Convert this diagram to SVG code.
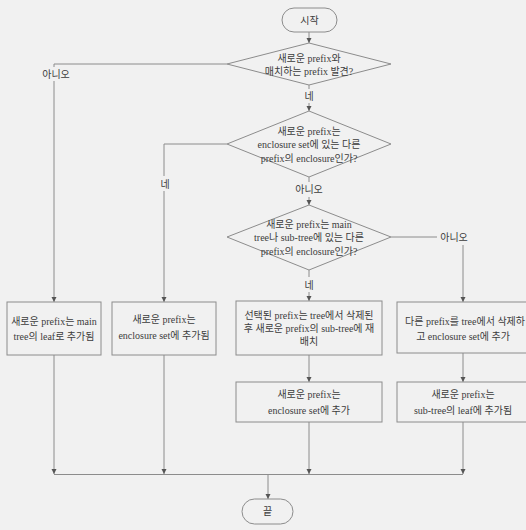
<svg xmlns="http://www.w3.org/2000/svg" width="526" height="530" viewBox="0 0 526 530">
<defs>
<style>
.shape{fill:none;stroke:#8c8c8c;stroke-width:1}
.ln{fill:none;stroke:#8c8c8c;stroke-width:1}
text{font-family:"Liberation Serif","Noto Sans CJK KR",serif;font-size:10px;fill:#3c3c3c;text-anchor:middle}
</style>
<marker id="ah" markerUnits="userSpaceOnUse" markerWidth="6" markerHeight="6" refX="5" refY="3" orient="auto">
<path d="M0,0.5 L5,3 L0,5.5 z" fill="#555"/>
</marker>
</defs>
<rect x="0" y="0" width="526" height="530" fill="#f1f1f1"/>

<g id="connectors">
<line class="ln" x1="309" y1="32" x2="309" y2="43" marker-end="url(#ah)"/>
<line class="ln" x1="309" y1="85" x2="309" y2="89"/>
<text x="309" y="99.5">네</text>
<line class="ln" x1="309" y1="103" x2="309" y2="111" marker-end="url(#ah)"/>
<line class="ln" x1="309" y1="177" x2="309" y2="182"/>
<text x="309" y="192.5">아니오</text>
<line class="ln" x1="309" y1="197" x2="309" y2="205" marker-end="url(#ah)"/>
<line class="ln" x1="309" y1="270" x2="309" y2="277"/>
<text x="309" y="288.5">네</text>
<line class="ln" x1="309" y1="292" x2="309" y2="301" marker-end="url(#ah)"/>
<polyline class="ln" points="227,64 54,64 54,67"/>
<text x="56" y="77.5">아니오</text>
<line class="ln" x1="54" y1="81" x2="54" y2="302" marker-end="url(#ah)"/>
<polyline class="ln" points="227,144 164,144 164,176"/>
<text x="165" y="187.5">네</text>
<line class="ln" x1="164" y1="191" x2="164" y2="302" marker-end="url(#ah)"/>
<line class="ln" x1="391" y1="237" x2="437" y2="237"/>
<text x="454" y="240.5">아니오</text>
<line class="ln" x1="463" y1="245" x2="463" y2="302" marker-end="url(#ah)"/>
<line class="ln" x1="309" y1="355" x2="309" y2="382" marker-end="url(#ah)"/>
<line class="ln" x1="463" y1="353" x2="463" y2="382" marker-end="url(#ah)"/>
<line class="ln" x1="54" y1="355" x2="54" y2="474" marker-end="url(#ah)"/>
<line class="ln" x1="164" y1="355" x2="164" y2="474" marker-end="url(#ah)"/>
<line class="ln" x1="309" y1="422" x2="309" y2="474" marker-end="url(#ah)"/>
<line class="ln" x1="463" y1="422" x2="463" y2="474" marker-end="url(#ah)"/>
<line class="ln" x1="54" y1="474.5" x2="463" y2="474.5"/>
<line class="ln" x1="268" y1="475" x2="268" y2="499" marker-end="url(#ah)"/>
</g>

<g id="start">
<rect class="shape" x="282" y="8" width="55" height="24" rx="12"/>
<text x="309.5" y="23.5">시작</text>
</g>

<g id="decision1">
<polygon class="shape" points="309,43 391,64 309,85 227,64"/>
<text x="309" y="62">새로운 prefix와</text>
<text x="309" y="75">매치하는 prefix 발견?</text>
</g>

<g id="decision2">
<polygon class="shape" points="309,111 391,144 309,177 227,144"/>
<text x="309" y="134.5">새로운 prefix는</text>
<text x="309" y="148">enclosure set에 있는 다른</text>
<text x="309" y="162">prefix의 enclosure인가?</text>
</g>

<g id="decision3">
<polygon class="shape" points="309,205 391,237 309,270 227,237"/>
<text x="309" y="227.5">새로운 prefix는 main</text>
<text x="309" y="241">tree나 sub-tree에 있는 다른</text>
<text x="309" y="255">prefix의 enclosure인가?</text>
</g>

<g id="boxA">
<rect class="shape" x="7" y="302" width="94" height="53"/>
<text x="54" y="324.5">새로운 prefix는 main</text>
<text x="54" y="340">tree의 leaf로 추가됨</text>
</g>

<g id="boxB">
<rect class="shape" x="112" y="302" width="104" height="53"/>
<text x="164" y="323">새로운 prefix는</text>
<text x="164" y="339">enclosure set에 추가됨</text>
</g>

<g id="boxC">
<rect class="shape" x="236" y="301" width="146" height="54"/>
<text x="309" y="319">선택된 prefix는 tree에서 삭제된</text>
<text x="309" y="332">후 새로운 prefix의 sub-tree에 재</text>
<text x="309" y="345">배치</text>
</g>

<g id="boxD">
<rect class="shape" x="397" y="302" width="133" height="51"/>
<text x="465" y="324.5">다른 prefix를 tree에서 삭제하</text>
<text x="463" y="339.5">고 enclosure set에 추가</text>
</g>

<g id="boxE">
<rect class="shape" x="236" y="382" width="146" height="40"/>
<text x="309" y="397.5">새로운 prefix는</text>
<text x="309" y="413.5">enclosure set에 추가</text>
</g>

<g id="boxF">
<rect class="shape" x="397" y="382" width="133" height="40"/>
<text x="463" y="397.5">새로운 prefix는</text>
<text x="463" y="413.5">sub-tree의 leaf에 추가됨</text>
</g>

<g id="end">
<rect class="shape" x="242" y="499" width="51" height="25" rx="12.5"/>
<text x="267.5" y="515">끝</text>
</g>
</svg>
